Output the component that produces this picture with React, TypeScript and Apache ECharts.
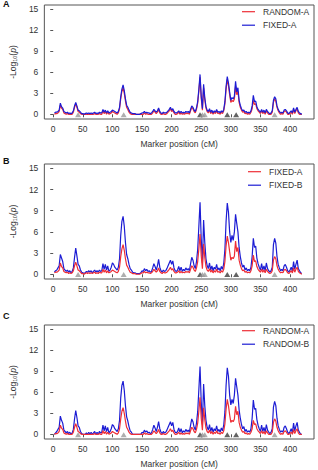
import React, { useEffect, useRef } from 'react';
import * as echarts from 'echarts';

// Marker grid: every 2 cM from 2 to 420 cM
const POS_START = 2;
const POS_STEP = 2;

const FIXED_B = [
  0.3, 0.5, 0.6, 0.9, 1.2, 2.8, 2.3, 1.8, 0.8, 0.6,
  0.4, 0.6, 0.3, 0.5, 0.2, 0.4, 0.9, 2.4, 3.7, 2.6,
  1.4, 1.2, 0.6, 0.3, 0.2, 0.1, 0.2, 0.4, 0.3, 0.5,
  0.3, 0.5, 0.2, 0.4, 0.6, 0.3, 0.5, 0.3, 0.6, 0.4,
  0.5, 1.5, 0.7, 1.4, 0.6, 1.2, 0.4, 0.6, 1.0, 1.6,
  1.4, 1.0, 0.8, 0.6, 1.0, 2.2, 5.5, 7.5, 8.2, 6.8,
  4.5, 2.8, 2.2, 1.4, 0.8, 0.6, 0.3, 0.2, 0.2, 0.1,
  0.1, 0.1, 0.1, 0.2, 0.5, 0.4, 0.8, 0.5, 0.7, 0.4,
  0.5, 0.3, 0.4, 0.9, 1.5, 1.1, 0.6, 1.2, 2.1, 1.0,
  0.5, 0.3, 0.6, 0.4, 0.5, 0.8, 1.2, 1.6, 2.0, 1.4,
  1.9, 0.9, 0.5, 0.4, 0.6, 1.1, 0.5, 1.0, 0.4, 0.7,
  0.5, 0.9, 0.6, 0.8, 0.5, 1.5, 2.4, 2.0, 1.2, 0.8,
  1.8, 3.5, 6.8, 10.2, 5.0, 1.6, 7.7, 4.5, 2.2, 1.2,
  0.8, 1.6, 0.6, 1.2, 0.5, 1.0, 0.7, 1.4, 0.6, 0.9,
  0.5, 1.1, 0.7, 1.5, 3.5, 7.5, 10.1, 8.8, 6.0, 4.5,
  5.5, 4.8, 6.0, 8.5, 7.2, 6.0, 3.8, 2.5, 1.6, 1.0,
  1.3, 0.6, 0.9, 0.5, 0.7, 0.5, 1.0, 2.5, 5.1, 3.8,
  4.0, 2.3, 1.5, 1.0, 0.6, 1.5, 0.6, 1.2, 0.5, 1.6,
  0.8, 0.5, 0.3, 0.5, 1.0, 4.2, 5.1, 4.4, 2.5, 1.4,
  0.9, 0.5, 0.7, 0.5, 1.2, 1.4, 1.0, 0.5, 0.3, 0.6,
  1.0, 0.4, 1.8, 0.7, 1.4, 2.0, 0.8, 0.5, 0.2, 0.1,
];

const RANDOM_B = [
  0.0, 0.2, 0.4, 0.7, 1.0, 2.6, 2.0, 1.6, 0.6, 0.4,
  0.2, 0.4, 0.1, 0.3, 0.0, 0.2, 0.7, 2.2, 3.4, 2.4,
  1.2, 1.0, 0.4, 0.1, 0.0, 0.0, 0.0, 0.2, 0.0, 0.3,
  0.0, 0.3, 0.0, 0.2, 0.4, 0.0, 0.3, 0.0, 0.4, 0.2,
  0.3, 1.3, 0.5, 1.2, 0.4, 1.0, 0.2, 0.4, 0.8, 1.4,
  1.2, 0.8, 0.6, 0.4, 0.8, 2.0, 5.2, 7.0, 7.6, 6.3,
  4.1, 2.5, 1.9, 1.1, 0.5, 0.3, 0.0, 0.0, 0.0, 0.0,
  0.0, 0.0, 0.0, 0.0, 0.3, 0.2, 0.6, 0.3, 0.5, 0.2,
  0.3, 0.1, 0.2, 0.7, 1.3, 0.9, 0.4, 1.0, 1.8, 0.8,
  0.3, 0.1, 0.4, 0.2, 0.3, 0.6, 1.0, 1.4, 1.8, 1.2,
  1.7, 0.7, 0.3, 0.2, 0.4, 0.9, 0.3, 0.8, 0.2, 0.5,
  0.3, 0.7, 0.4, 0.6, 0.3, 1.3, 2.2, 1.8, 1.0, 0.6,
  1.6, 3.2, 6.4, 9.7, 4.6, 1.4, 7.2, 4.1, 2.0, 1.0,
  0.6, 1.4, 0.4, 1.0, 0.3, 0.8, 0.5, 1.2, 0.4, 0.7,
  0.3, 0.9, 0.5, 1.3, 3.2, 7.0, 9.5, 8.3, 5.6, 4.2,
  5.0, 4.4, 5.6, 8.0, 6.8, 5.6, 3.5, 2.3, 1.4, 0.8,
  1.1, 0.4, 0.7, 0.3, 0.5, 0.3, 0.8, 2.3, 4.9, 3.6,
  3.7, 2.1, 1.3, 0.8, 0.4, 1.3, 0.4, 1.0, 0.3, 1.4,
  0.6, 0.3, 0.1, 0.3, 0.8, 3.9, 4.7, 4.1, 2.3, 1.2,
  0.7, 0.3, 0.5, 0.3, 1.0, 1.2, 0.8, 0.3, 0.1, 0.4,
  0.8, 0.2, 1.6, 0.5, 1.2, 1.7, 0.6, 0.3, 0.0, 0.0,
];

const FIXED_A = [
  0.2, 0.3, 0.3, 0.4, 0.6, 1.6, 1.1, 0.9, 0.4, 0.3,
  0.2, 0.3, 0.1, 0.2, 0.1, 0.2, 0.5, 1.2, 1.7, 1.2,
  0.6, 0.5, 0.3, 0.1, 0.1, 0.0, 0.1, 0.2, 0.1, 0.2,
  0.1, 0.2, 0.1, 0.2, 0.3, 0.1, 0.2, 0.1, 0.3, 0.2,
  0.2, 0.7, 0.3, 0.6, 0.2, 0.5, 0.2, 0.3, 0.4, 0.6,
  0.5, 0.4, 0.3, 0.2, 0.4, 1.0, 2.5, 3.6, 4.2, 3.4,
  2.2, 1.3, 1.0, 0.6, 0.3, 0.2, 0.1, 0.1, 0.1, 0.0,
  0.0, 0.0, 0.0, 0.1, 0.2, 0.2, 0.4, 0.2, 0.3, 0.2,
  0.2, 0.1, 0.2, 0.4, 0.7, 0.5, 0.3, 0.5, 0.9, 0.4,
  0.2, 0.1, 0.3, 0.2, 0.2, 0.3, 0.5, 0.7, 1.0, 0.6,
  0.8, 0.4, 0.2, 0.2, 0.3, 0.5, 0.2, 0.4, 0.2, 0.3,
  0.2, 0.4, 0.3, 0.4, 0.2, 0.7, 1.2, 1.0, 0.6, 0.4,
  0.9, 1.8, 3.6, 5.7, 2.6, 0.8, 4.3, 2.4, 1.1, 0.6,
  0.4, 0.8, 0.3, 0.6, 0.2, 0.5, 0.3, 0.7, 0.3, 0.4,
  0.2, 0.5, 0.3, 0.7, 1.8, 4.0, 5.4, 4.5, 3.2, 2.0,
  2.4, 2.2, 2.6, 4.7, 3.2, 3.8, 2.0, 1.3, 0.8, 0.5,
  0.6, 0.3, 0.4, 0.2, 0.3, 0.2, 0.5, 1.2, 2.7, 1.8,
  1.9, 1.1, 0.7, 0.5, 0.3, 0.7, 0.3, 0.6, 0.2, 0.7,
  0.4, 0.2, 0.1, 0.2, 0.5, 2.0, 2.5, 2.2, 1.2, 0.7,
  0.4, 0.2, 0.3, 0.2, 0.6, 0.7, 0.5, 0.2, 0.1, 0.3,
  0.5, 0.2, 0.9, 0.3, 0.7, 1.0, 0.4, 0.2, 0.1, 0.0,
];

const RANDOM_A = [
  0.0, 0.1, 0.1, 0.2, 0.4, 1.3, 0.9, 0.7, 0.2, 0.1,
  0.0, 0.1, 0.0, 0.0, 0.0, 0.0, 0.3, 1.0, 1.5, 1.0,
  0.4, 0.3, 0.1, 0.0, 0.0, 0.0, 0.0, 0.0, 0.0, 0.0,
  0.0, 0.0, 0.0, 0.0, 0.1, 0.0, 0.0, 0.0, 0.1, 0.0,
  0.0, 0.5, 0.1, 0.4, 0.0, 0.3, 0.0, 0.1, 0.2, 0.4,
  0.3, 0.2, 0.1, 0.0, 0.2, 0.8, 2.2, 3.3, 3.8, 3.0,
  1.9, 1.0, 0.7, 0.3, 0.1, 0.0, 0.0, 0.0, 0.0, 0.0,
  0.0, 0.0, 0.0, 0.0, 0.0, 0.0, 0.2, 0.0, 0.1, 0.0,
  0.0, 0.0, 0.0, 0.2, 0.5, 0.3, 0.1, 0.3, 0.7, 0.2,
  0.0, 0.0, 0.1, 0.0, 0.0, 0.1, 0.3, 0.5, 0.8, 0.4,
  0.6, 0.2, 0.0, 0.0, 0.1, 0.3, 0.0, 0.2, 0.0, 0.1,
  0.0, 0.2, 0.1, 0.2, 0.0, 0.5, 1.0, 0.8, 0.4, 0.2,
  0.7, 1.6, 3.3, 5.3, 2.3, 0.6, 3.8, 2.1, 0.9, 0.4,
  0.2, 0.6, 0.1, 0.4, 0.0, 0.3, 0.1, 0.5, 0.1, 0.2,
  0.0, 0.3, 0.1, 0.5, 1.5, 3.6, 5.0, 4.1, 2.8, 1.7,
  2.0, 1.8, 2.2, 4.0, 2.8, 3.3, 1.7, 1.0, 0.6, 0.3,
  0.4, 0.1, 0.2, 0.0, 0.1, 0.0, 0.3, 0.8, 2.0, 1.4,
  1.5, 0.8, 0.5, 0.3, 0.1, 0.5, 0.1, 0.4, 0.0, 0.5,
  0.2, 0.0, 0.0, 0.0, 0.3, 1.7, 2.2, 1.9, 1.0, 0.5,
  0.2, 0.0, 0.1, 0.0, 0.4, 0.5, 0.3, 0.0, 0.0, 0.1,
  0.3, 0.0, 0.7, 0.1, 0.5, 0.8, 0.2, 0.0, 0.0, 0.0,
];

const X_TICKS = [0, 50, 100, 150, 200, 250, 300, 350, 400];
const Y_TICKS = [0, 3, 6, 9, 12, 15];

const MARKER_POS = [42, 119, 248, 252, 256, 294, 309, 374];
const MARKER_KIND = ['light', 'light', 'dark', 'light', 'light', 'dark', 'dark', 'light'];

const PANEL_LETTERS = ['A', 'B', 'C'];
const PANEL_RED = ['RANDOM-A', 'FIXED-A', 'RANDOM-A'];
const PANEL_BLUE = ['FIXED-A', 'FIXED-B', 'RANDOM-B'];

const SERIES_VALUES: Record<string, number[]> = {
  'RANDOM-A': RANDOM_A,
  'FIXED-A': FIXED_A,
  'FIXED-B': FIXED_B,
  'RANDOM-B': RANDOM_B,
};

// layout
const GRID_TOPS = [5, 164, 325];
const GRID_HEIGHTS = [114, 115, 114];
const GRID_LEFT = 33;
const GRID_WIDTH = 281;
const LETTER_Y = [4.5, 161, 316];
const LEGEND_X = [242, 248, 242];
const LEGEND_Y = [11.7, 171.7, 330.7];

const RED = '#ee2e36';
const BLUE = '#1c1cd4';
const FONT = '"Liberation Sans", Arial, Helvetica, sans-serif';

export default function App() {
  const ref = useRef<HTMLDivElement>(null);
  useEffect(() => {
    document.body.style.margin = '0';
    if (!ref.current) return;
    const chart = echarts.init(ref.current, undefined, { renderer: 'svg' });

    const toPairs = (vals: number[]) => vals.map((v, i) => [POS_START + POS_STEP * i, v]);

    const grids: any[] = [];
    const xAxes: any[] = [];
    const yAxes: any[] = [];
    const series: any[] = [];
    const graphics: any[] = [];

    for (let p = 0; p < 3; p++) {
      grids.push({
        left: GRID_LEFT,
        top: GRID_TOPS[p],
        width: GRID_WIDTH,
        height: GRID_HEIGHTS[p],
        show: true,
        borderColor: '#555',
        borderWidth: 1,
        backgroundColor: 'transparent',
      });
      xAxes.push({
        type: 'value',
        gridIndex: p,
        min: -15,
        max: 440.5,
        axisLine: { show: false },
        splitLine: { show: false },
        axisTick: { show: true, length: 3, lineStyle: { color: '#555' }, customValues: X_TICKS },
        axisLabel: { customValues: X_TICKS, fontSize: 8.5, color: '#333', margin: 5, fontFamily: FONT },
        name: 'Marker position (cM)',
        nameLocation: 'middle',
        nameGap: 20,
        nameTextStyle: { fontSize: 8.5, color: '#333', fontFamily: FONT },
      });
      yAxes.push({
        type: 'value',
        gridIndex: p,
        min: -0.67,
        max: 15.62,
        axisLine: { show: false },
        splitLine: { show: false },
        axisTick: { show: true, length: 3, lineStyle: { color: '#555' }, customValues: Y_TICKS },
        axisLabel: { customValues: Y_TICKS, fontSize: 8.5, color: '#333', margin: 6, fontFamily: FONT },
        name: '{a|-Log}{s|10}{a|(}{i|p}{a|)}',
        nameLocation: 'middle',
        nameGap: 20,
        nameTextStyle: {
          fontFamily: FONT,
          color: '#333',
          rich: {
            a: { fontSize: 8.5, color: '#333', fontFamily: FONT, lineHeight: 11 },
            i: { fontSize: 8.5, color: '#333', fontFamily: FONT, fontStyle: 'italic', lineHeight: 11 },
            s: { fontSize: 5.5, color: '#333', fontFamily: FONT, lineHeight: 11, verticalAlign: 'bottom', padding: [3, 0, 0, 0] },
          },
        },
      });

      series.push({
        type: 'line',
        name: PANEL_RED[p],
        xAxisIndex: p,
        yAxisIndex: p,
        data: toPairs(SERIES_VALUES[PANEL_RED[p]]),
        showSymbol: false,
        symbol: 'none',
        lineStyle: { color: RED, width: 1.2 },
        itemStyle: { color: RED },
        z: 2,
      });
      series.push({
        type: 'line',
        name: PANEL_BLUE[p],
        xAxisIndex: p,
        yAxisIndex: p,
        data: toPairs(SERIES_VALUES[PANEL_BLUE[p]]),
        showSymbol: false,
        symbol: 'none',
        lineStyle: { color: BLUE, width: 1.2 },
        itemStyle: { color: BLUE },
        z: p === 0 ? 3 : 1,
      });
      series.push({
        type: 'scatter',
        xAxisIndex: p,
        yAxisIndex: p,
        symbol: 'triangle',
        symbolSize: [6, 5],
        data: MARKER_POS.map((x, i) => ({
          value: [x, -0.05],
          itemStyle: { color: MARKER_KIND[i] === 'dark' ? '#3c3c3c' : '#9a9a9a' },
        })),
        z: 5,
      });

      graphics.push({
        type: 'text',
        left: 3,
        top: LETTER_Y[p] - 5,
        style: { text: PANEL_LETTERS[p], fontSize: 9, fontWeight: 'bold', fill: '#111', fontFamily: FONT },
      });
      const names = [PANEL_RED[p], PANEL_BLUE[p]];
      const cols = [RED, BLUE];
      for (let k = 0; k < 2; k++) {
        const y = LEGEND_Y[p] + k * 13.5;
        graphics.push({
          type: 'line',
          shape: { x1: LEGEND_X[p], y1: y, x2: LEGEND_X[p] + 13, y2: y },
          style: { stroke: cols[k], lineWidth: 1.2 },
        });
        graphics.push({
          type: 'text',
          x: LEGEND_X[p] + 21,
          y: y,
          style: {
            text: names[k],
            fontSize: 8.5,
            fill: '#333',
            fontFamily: FONT,
            verticalAlign: 'middle',
            textVerticalAlign: 'middle',
          },
        });
      }
    }

    chart.setOption({
      animation: false,
      backgroundColor: '#fff',
      textStyle: { fontFamily: FONT },
      grid: grids,
      xAxis: xAxes,
      yAxis: yAxes,
      series,
      graphic: graphics,
    });
    return () => chart.dispose();
  }, []);
  return <div ref={ref} style={{ width: 318, height: 470 }} />;
}
